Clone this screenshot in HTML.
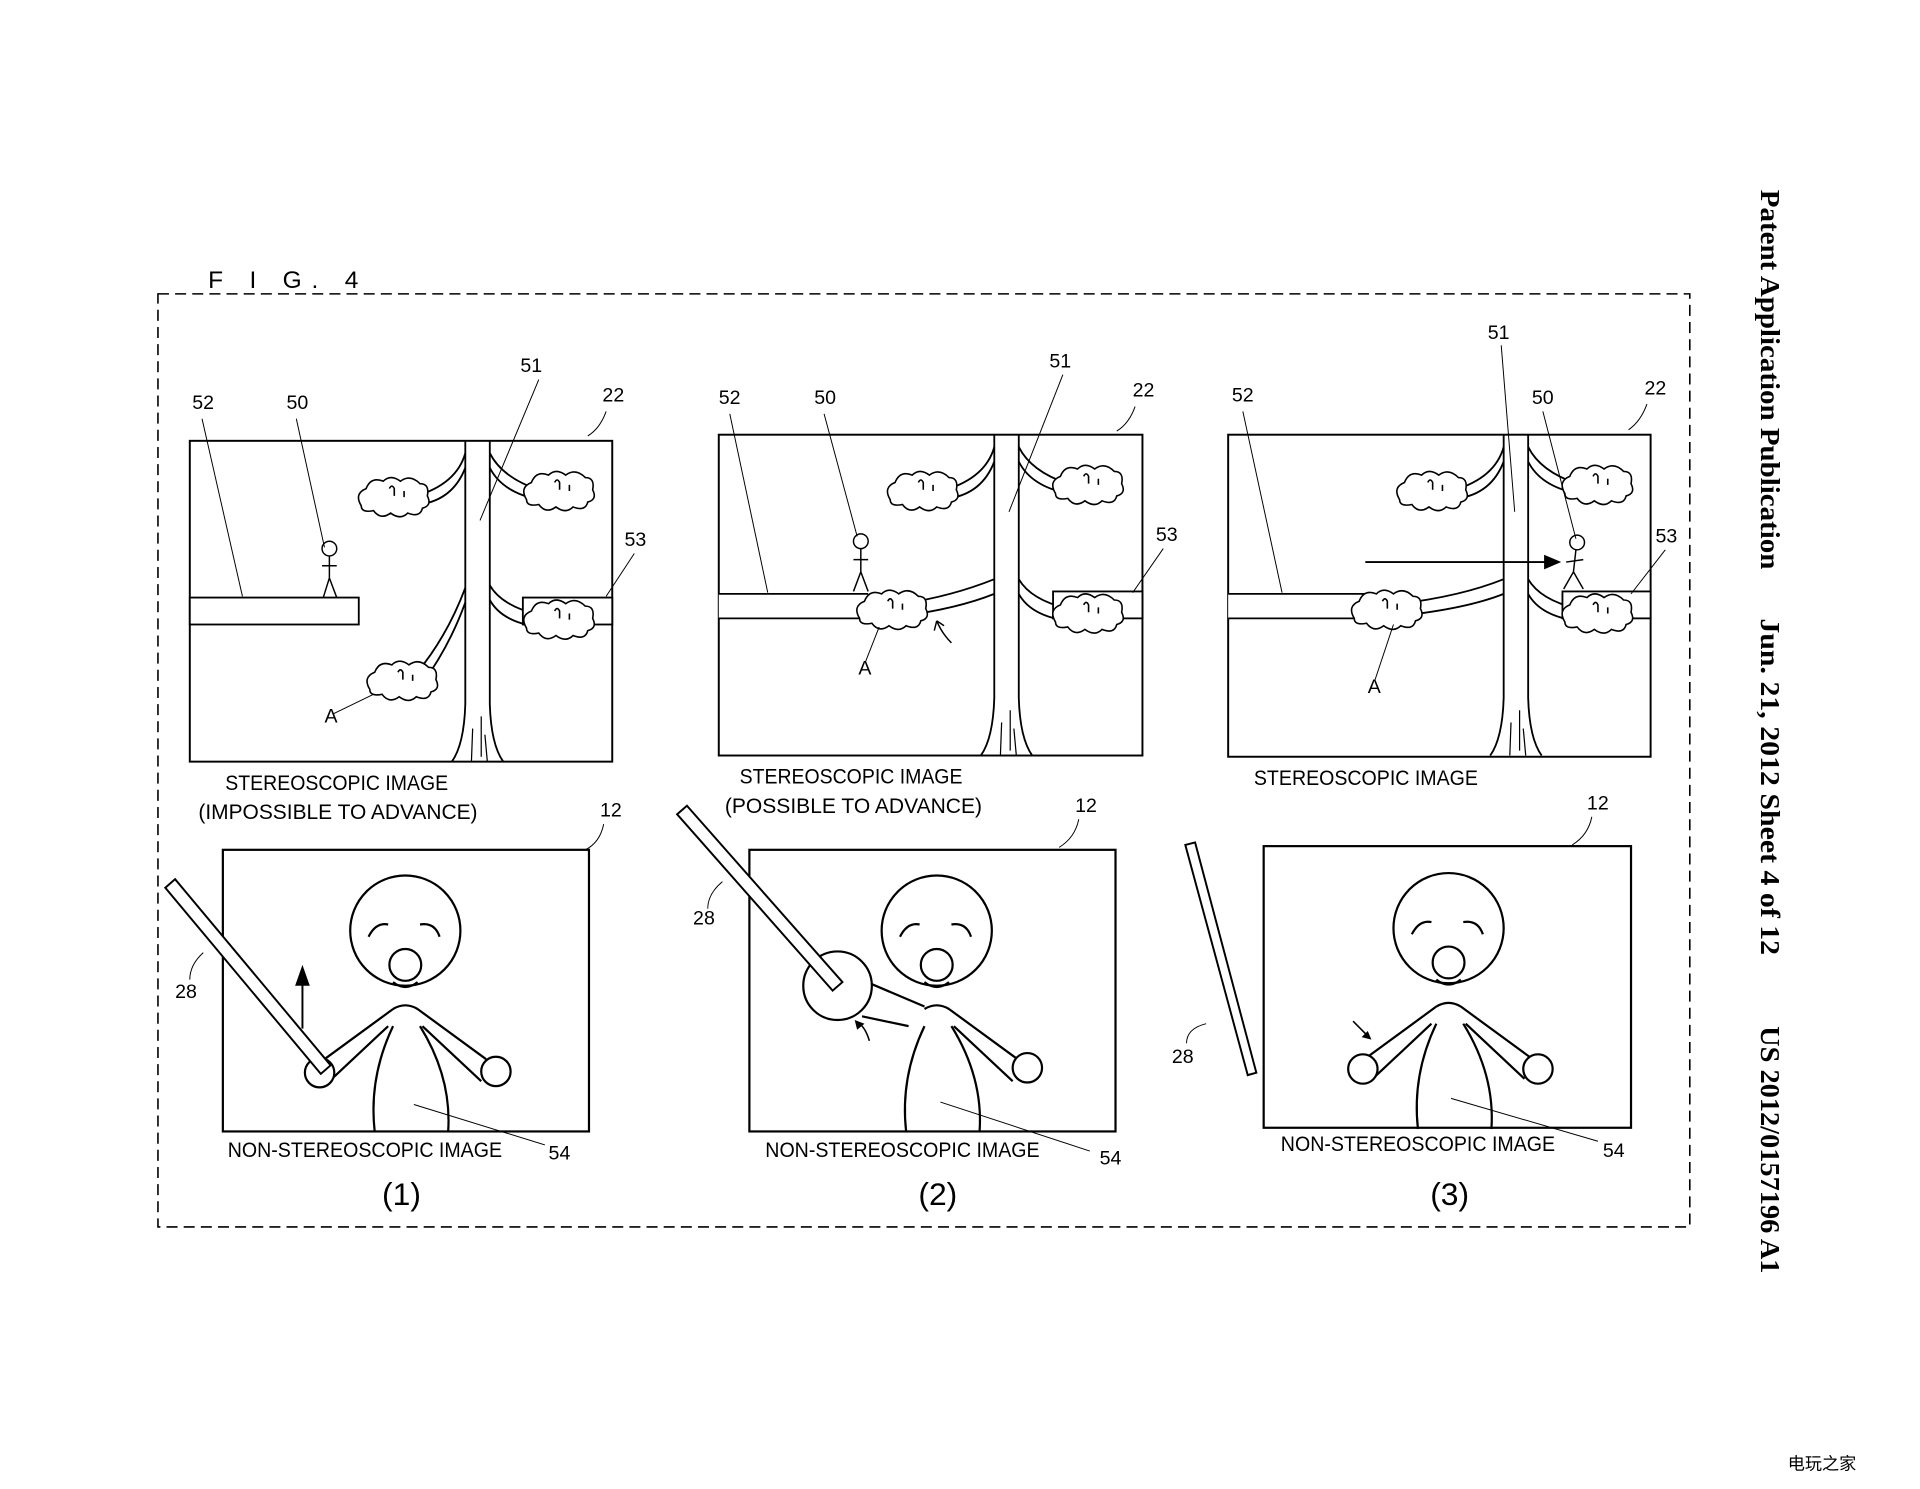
<!DOCTYPE html>
<html><head><meta charset="utf-8"><style>
html,body{margin:0;padding:0;background:#fff;}
svg{display:block;}
text{font-family:"Liberation Sans",sans-serif;fill:#000;}
</style></head><body>
<svg width="1920" height="1489" viewBox="0 0 1568 1216" preserveAspectRatio="none" xmlns="http://www.w3.org/2000/svg">
<defs>
<path id="cloud" d="M-25,8 q-6,-10 4,-14 q4,-10 14,-6 q6,-6 14,0 q8,-6 16,2 q8,0 6,10 q4,8 -4,10 q-2,8 -12,4 q-6,6 -14,0 q-8,6 -14,-2 q-10,2 -10,-4z M-2,-6 q2,-4 4,0 l0,6 M10,-4 l0,5" fill="#fff" stroke="#000" stroke-width="1.3"/>
<g id="tree" fill="none" stroke="#000" stroke-width="1.5">
<path d="M225,0 L225,215 Q224,248 214,262"/>
<path d="M245,0 L245,215 Q246,248 256,262"/>
<path d="M231,235 L230,262 M238,225 L238,258 M241,240 L243,262" stroke-width="1"/>
<path d="M225,10 Q218,35 185,45 M225,22 Q215,48 188,52"/>
<path d="M245,10 Q255,30 285,40 M245,22 Q255,42 285,48"/>
<path d="M245,118 Q255,135 285,142 M245,130 Q255,148 285,152"/>
</g>
<g id="core" fill="none" stroke="#000" stroke-width="1.8">
<circle cx="0" cy="0" r="45"/>
<circle cx="0" cy="28" r="13"/>
<path d="M-30,5 q6,-12 16,-10 M12,-5 q12,-2 16,10 M-10,42 q10,8 20,0"/>
<path d="M-10,64 q10,-6 20,0 M10,64 L66,105 M14,78 L62,123"/>
<path d="M-10,78 Q-30,120 -25,164 M12,78 Q38,120 35,164"/>
</g>
<g id="larm" fill="none" stroke="#000" stroke-width="1.8">
<path d="M-10,64 L-66,105 M-14,78 L-62,123"/>
</g>
</defs>
<rect width="1568" height="1216" fill="#fff"/>
<text x="170" y="235" font-size="20" letter-spacing="8">F I G. 4</text>
<rect x="129" y="240" width="1251" height="762" fill="none" stroke="#000" stroke-width="1.3" stroke-dasharray="9,5"/>
<g font-weight="bold" font-size="22" style="font-family:'Liberation Serif',serif">
<text transform="translate(1438,155) rotate(90)" textLength="310" lengthAdjust="spacingAndGlyphs" style="font-family:'Liberation Serif',serif">Patent Application Publication</text>
<text transform="translate(1438,505) rotate(90)" textLength="275" lengthAdjust="spacingAndGlyphs" style="font-family:'Liberation Serif',serif">Jun. 21, 2012  Sheet 4 of 12</text>
<text transform="translate(1438,838) rotate(90)" textLength="202" lengthAdjust="spacingAndGlyphs" style="font-family:'Liberation Serif',serif">US 2012/0157196 A1</text>
</g>

<!-- Panel 1 top -->
<g transform="translate(155,360)">
<rect x="0" y="0" width="345" height="262" fill="none" stroke="#000" stroke-width="1.6"/>
<use href="#tree"/>
<path d="M225,120 Q210,160 185,190 M225,132 Q212,168 190,198" fill="none" stroke="#000" stroke-width="1.5"/>
<rect x="0" y="128" width="138" height="22" fill="#fff" stroke="#000" stroke-width="1.5"/>
<rect x="272" y="128" width="73" height="22" fill="#fff" stroke="#000" stroke-width="1.5"/>
<use href="#cloud" x="165" y="45"/><use href="#cloud" x="300" y="40"/><use href="#cloud" x="300" y="145"/><use href="#cloud" x="172" y="195"/>
<g fill="none" stroke="#000" stroke-width="1.2"><circle cx="114" cy="88" r="6"/><path d="M114,94 L114,112 M114,112 L109,128 M114,112 L120,128 M108,102 L120,102"/></g>
</g>
<!-- Panel 2 top -->
<g transform="translate(587,355)">
<rect x="0" y="0" width="346" height="262" fill="none" stroke="#000" stroke-width="1.6"/>
<use href="#tree"/>
<rect x="0" y="130" width="122" height="20" fill="#fff" stroke="none"/>
<path d="M0,130 L122,130 M0,150 L122,150 M150,138 Q190,132 225,118 M150,148 Q195,142 225,130" fill="none" stroke="#000" stroke-width="1.5"/>
<rect x="273" y="128" width="73" height="22" fill="#fff" stroke="#000" stroke-width="1.5"/>
<use href="#cloud" x="165" y="45"/><use href="#cloud" x="300" y="40"/><use href="#cloud" x="300" y="145"/><use href="#cloud" x="140" y="142"/>
<g fill="none" stroke="#000" stroke-width="1.2"><circle cx="116" cy="87" r="6"/><path d="M116,93 L116,112 M116,112 L110,128 M116,112 L122,128 M110,102 L122,102"/><path d="M190,170 q-8,-8 -12,-18 M178,152 l-2,8 M178,152 l6,4"/></g>
</g>
<!-- Panel 3 top -->
<g transform="translate(1003,355)">
<rect x="0" y="0" width="345" height="263" fill="none" stroke="#000" stroke-width="1.6"/>
<use href="#tree"/>
<rect x="0" y="130" width="112" height="20" fill="#fff" stroke="none"/>
<path d="M0,130 L112,130 M0,150 L112,150 M140,138 Q190,132 225,118 M140,148 Q195,142 225,130" fill="none" stroke="#000" stroke-width="1.5"/>
<rect x="273" y="128" width="72" height="22" fill="#fff" stroke="#000" stroke-width="1.5"/>
<use href="#cloud" x="165" y="45"/><use href="#cloud" x="300" y="40"/><use href="#cloud" x="300" y="145"/><use href="#cloud" x="128" y="142"/>
<path d="M112,104 L262,104" stroke="#000" stroke-width="1.5"/>
<path d="M258,98 L272,104 L258,110z" fill="#000"/>
<g fill="none" stroke="#000" stroke-width="1.2"><circle cx="285" cy="88" r="6"/><path d="M284,94 L282,112 M282,112 L274,126 M282,112 L290,126 M276,104 L290,102"/></g>
</g>

<!-- Top labels -->
<g font-size="16">
<text x="157" y="334">52</text><text x="234" y="334">50</text><text x="425" y="304">51</text><text x="492" y="328">22</text><text x="510" y="446">53</text><text x="265" y="590">A</text>
<text x="587" y="330">52</text><text x="665" y="330">50</text><text x="857" y="300">51</text><text x="925" y="324">22</text><text x="944" y="442">53</text><text x="701" y="551">A</text>
<text x="1006" y="328">52</text><text x="1251" y="330">50</text><text x="1215" y="277">51</text><text x="1343" y="322">22</text><text x="1352" y="443">53</text><text x="1117" y="566">A</text>
<text x="490" y="667">12</text><text x="878" y="663">12</text><text x="1296" y="661">12</text>
<text x="143" y="815">28</text><text x="566" y="755">28</text><text x="957" y="868">28</text>
<text x="448" y="947">54</text><text x="898" y="951">54</text><text x="1309" y="945">54</text>
</g>
<g fill="none" stroke="#000" stroke-width="0.8">
<path d="M165,342 L198,487 M242,342 L265,447 M440,310 L392,425 M495,336 Q490,350 480,356 M518,452 L495,487 M272,583 L305,567"/>
<path d="M596,338 L627,484 M673,338 L700,438 M868,306 L824,418 M927,332 Q922,346 912,352 M950,448 L925,484 M707,540 L718,512"/>
<path d="M1015,336 L1047,484 M1260,336 L1287,440 M1226,282 L1237,418 M1345,330 Q1340,344 1330,351 M1360,449 L1332,485 M1123,555 L1138,510"/>
<path d="M493,673 Q490,688 478,694 M881,669 Q878,684 865,692 M1300,667 Q1297,682 1284,690"/>
<path d="M155,800 Q155,788 166,778 M578,742 Q578,730 590,720 M969,852 Q969,840 985,836"/>
<path d="M338,902 L445,935 M768,900 L890,940 M1185,897 L1305,932"/>
</g>

<g font-size="17">
<text x="184" y="645" textLength="182" lengthAdjust="spacingAndGlyphs">STEREOSCOPIC IMAGE</text><text x="162" y="669" textLength="228" lengthAdjust="spacingAndGlyphs">(IMPOSSIBLE TO ADVANCE)</text>
<text x="604" y="640" textLength="182" lengthAdjust="spacingAndGlyphs">STEREOSCOPIC IMAGE</text><text x="592" y="664" textLength="210" lengthAdjust="spacingAndGlyphs">(POSSIBLE TO ADVANCE)</text>
<text x="1024" y="641" textLength="183" lengthAdjust="spacingAndGlyphs">STEREOSCOPIC IMAGE</text>
<text x="186" y="945" textLength="224" lengthAdjust="spacingAndGlyphs">NON-STEREOSCOPIC IMAGE</text><text x="625" y="945" textLength="224" lengthAdjust="spacingAndGlyphs">NON-STEREOSCOPIC IMAGE</text><text x="1046" y="940" textLength="224" lengthAdjust="spacingAndGlyphs">NON-STEREOSCOPIC IMAGE</text>
</g>
<g font-size="26"><text x="312" y="984">(1)</text><text x="750" y="984">(2)</text><text x="1168" y="984">(3)</text></g>

<!-- Bottom boxes -->
<rect x="182" y="694" width="299" height="230" fill="none" stroke="#000" stroke-width="1.8"/>
<rect x="612" y="694" width="299" height="230" fill="none" stroke="#000" stroke-width="1.8"/>
<rect x="1032" y="691" width="300" height="230" fill="none" stroke="#000" stroke-width="1.8"/>
<use href="#core" x="331" y="760"/><use href="#larm" x="331" y="760"/>
<use href="#core" x="765" y="760"/>
<path d="M755,822 L708,802 M742,838 L704,830" fill="none" stroke="#000" stroke-width="1.8"/>
<use href="#core" x="1183" y="758"/><use href="#larm" x="1183" y="758"/>
<g fill="#fff" stroke="#000" stroke-width="1.8">
<circle cx="261" cy="876" r="12"/><circle cx="405" cy="875" r="12"/>
<circle cx="684" cy="805" r="28"/><circle cx="839" cy="872" r="12"/>
<circle cx="1113" cy="873" r="12"/><circle cx="1256" cy="873" r="12"/>
</g>
<!-- styluses -->
<g fill="#fff" stroke="#000" stroke-width="1.6">
<path d="M135,725 L143,718 L270,870 L262,877z"/>
<path d="M553,665 L561,658 L688,802 L680,809z"/>
<path d="M968,690 L976,688 L1026,876 L1019,878z"/>
</g>
<path d="M247,840 L247,800" stroke="#000" stroke-width="1.6"/>
<path d="M241,805 L247,788 L253,805z" fill="#000"/>
<path d="M710,850 q-3,-10 -8,-14" fill="none" stroke="#000" stroke-width="1.3"/>
<path d="M698,833 l8,3 l-6,5z" fill="#000"/>
<path d="M1105,834 q8,8 12,12" fill="none" stroke="#000" stroke-width="1.3"/>
<path d="M1120,849 l-8,-2 l5,-5z" fill="#000"/>
<text x="1460" y="1200" font-size="14" fill="#d44">电玩之家</text>
</svg>
</body></html>
